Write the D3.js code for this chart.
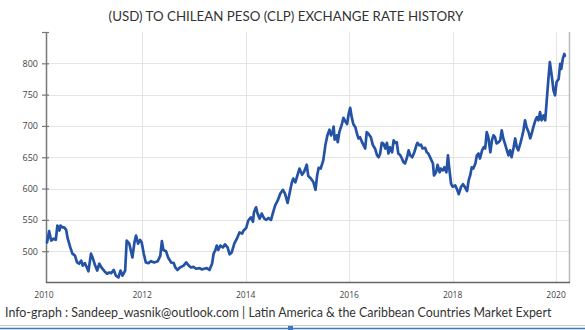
<!DOCTYPE html>
<html>
<head>
<meta charset="utf-8">
<script src="https://cdn.jsdelivr.net/npm/d3@7"></script>
<style>
  html, body { margin: 0; padding: 0; background: #fff; }
  svg { display: block; }
</style>
</head>
<body>
<svg id="chart" width="585" height="330"></svg>
<script>
// USD/CLP exchange rate, sampled as fractional years
const years = [
  2010.16, 2010.20, 2010.24, 2010.29, 2010.33, 2010.36, 2010.40, 2010.42, 2010.46, 2010.49,
  2010.53, 2010.56, 2010.61, 2010.65, 2010.70, 2010.74, 2010.78, 2010.82, 2010.85, 2010.89,
  2010.93, 2010.96, 2011.01, 2011.04, 2011.09, 2011.13, 2011.17, 2011.21, 2011.27, 2011.32,
  2011.36, 2011.40, 2011.45, 2011.49, 2011.54, 2011.58, 2011.62, 2011.67, 2011.70, 2011.75,
  2011.78, 2011.81, 2011.85, 2011.88, 2011.92, 2011.96, 2011.99, 2012.03, 2012.07, 2012.12,
  2012.17, 2012.23, 2012.30, 2012.35, 2012.38, 2012.41, 2012.46, 2012.50, 2012.56, 2012.61,
  2012.64, 2012.68, 2012.73, 2012.80, 2012.85, 2012.90, 2012.94, 2012.99, 2013.04, 2013.11,
  2013.15, 2013.20, 2013.25, 2013.30, 2013.35, 2013.38, 2013.41, 2013.44, 2013.47, 2013.51,
  2013.56, 2013.60, 2013.65, 2013.69, 2013.73, 2013.78, 2013.83, 2013.88, 2013.93, 2013.96,
  2014.01, 2014.05, 2014.10, 2014.14, 2014.16, 2014.20, 2014.23, 2014.27, 2014.31, 2014.36,
  2014.40, 2014.44, 2014.49, 2014.53, 2014.57, 2014.62, 2014.67, 2014.72, 2014.76, 2014.81,
  2014.85, 2014.89, 2014.92, 2014.96, 2015.00, 2015.04, 2015.09, 2015.13, 2015.18, 2015.21,
  2015.26, 2015.31, 2015.35, 2015.38, 2015.41, 2015.45, 2015.50, 2015.54, 2015.58, 2015.62,
  2015.65, 2015.68, 2015.70, 2015.72, 2015.76, 2015.78, 2015.81, 2015.86, 2015.89, 2015.92,
  2015.96, 2015.99, 2016.02, 2016.05, 2016.08, 2016.12, 2016.15, 2016.18, 2016.21, 2016.25,
  2016.28, 2016.31, 2016.34, 2016.37, 2016.42, 2016.46, 2016.50, 2016.54, 2016.57, 2016.60,
  2016.63, 2016.66, 2016.70, 2016.73, 2016.76, 2016.79, 2016.83, 2016.86, 2016.89, 2016.92,
  2016.95, 2016.99, 2017.02, 2017.05, 2017.08, 2017.12, 2017.15, 2017.18, 2017.22, 2017.26,
  2017.30, 2017.32, 2017.36, 2017.39, 2017.42, 2017.47, 2017.50, 2017.53, 2017.57, 2017.62,
  2017.64, 2017.68, 2017.71, 2017.75, 2017.77, 2017.81, 2017.84, 2017.88, 2017.91, 2017.94,
  2017.97, 2018.00, 2018.05, 2018.08, 2018.12, 2018.16, 2018.20, 2018.24, 2018.28, 2018.31,
  2018.34, 2018.37, 2018.40, 2018.44, 2018.47, 2018.50, 2018.53, 2018.57, 2018.60, 2018.63,
  2018.66, 2018.69, 2018.73, 2018.76, 2018.79, 2018.82, 2018.85, 2018.89, 2018.92, 2018.95,
  2018.98, 2019.01, 2019.05, 2019.08, 2019.11, 2019.14, 2019.18, 2019.21, 2019.24, 2019.27,
  2019.31, 2019.34, 2019.37, 2019.40, 2019.43, 2019.47, 2019.50, 2019.53, 2019.56, 2019.60,
  2019.63, 2019.66, 2019.69, 2019.72, 2019.76, 2019.79, 2019.82, 2019.85, 2019.88, 2019.92,
  2019.95, 2019.98, 2020.01, 2020.05, 2020.08, 2020.10, 2020.13, 2020.16, 2020.17
];

const rates = [
  514, 532, 517, 520, 518, 541, 533, 541, 538, 538,
  534, 520, 506, 496, 493, 482, 480, 485, 477, 481,
  474, 468, 496, 490, 477, 469, 480, 474, 468, 464,
  466, 465, 470, 461, 458, 469, 461, 469, 517, 512,
  501, 490, 514, 525, 512, 518, 514, 496, 482, 481,
  484, 482, 484, 493, 516, 502, 500, 490, 482, 481,
  474, 470, 474, 477, 482, 477, 474, 475, 472, 473,
  471, 472, 473, 470, 480, 496, 501, 509, 502, 509,
  506, 511, 506, 495, 498, 512, 520, 530, 528, 533,
  537, 549, 554, 547, 562, 570, 560, 552, 560, 552,
  550, 553, 550, 562, 573, 581, 592, 598, 592, 577,
  593, 609, 616, 610, 621, 632, 622, 627, 638, 620,
  616, 610, 598, 620, 633, 632, 645, 669, 685, 694,
  685, 690, 699, 678, 685, 674, 690, 703, 713, 708,
  703, 719, 729, 714, 703, 698, 688, 680, 682, 674,
  669, 664, 690, 688, 682, 669, 664, 653, 650, 656,
  673, 672, 664, 673, 656, 666, 658, 677, 673, 674,
  656, 653, 648, 642, 640, 650, 661, 653, 650, 658,
  669, 673, 669, 670, 664, 665, 658, 656, 649, 640,
  621, 626, 638, 626, 632, 629, 634, 626, 653, 629,
  608, 603, 605, 600, 591, 602, 607, 602, 596, 613,
  621, 634, 632, 640, 653, 656, 648, 661, 666, 664,
  690, 682, 658, 677, 685, 682, 672, 674, 677, 693,
  680, 672, 661, 653, 661, 650, 666, 680, 666, 661,
  672, 682, 693, 709, 698, 690, 680, 688, 698, 709,
  714, 709, 722, 709, 717, 709, 741, 773, 802, 778,
  757, 749, 770, 775, 799, 791, 807, 815, 812
];

const xTickYears = [2010, 2012, 2014, 2016, 2018, 2020];
const yTicks = [500, 550, 600, 650, 700, 750, 800, 850];
const yLabelTicks = [500, 550, 600, 650, 700, 750, 800];

const titleText = "(USD) TO CHILEAN PESO (CLP) EXCHANGE RATE HISTORY";
const footerText = "Info-graph : Sandeep_wasnik@outlook.com | Latin America & the Caribbean Countries Market Expert";

const W = 585, H = 330;
const plot = { left: 46, right: 569, top: 32, bottom: 282.5 };

const svg = d3.select("#chart");

const x = d3.scaleLinear().domain([2010.14, 2020.25]).range([plot.left, plot.right]);
const y = d3.scaleLinear().domain([450, 850]).range([plot.bottom, plot.top]);

const data = years.map((t, i) => ({ t, v: rates[i] }));

// Title
svg.append("text")
  .attr("x", 286).attr("y", 21)
  .attr("text-anchor", "middle")
  .attr("font-family", "Lato, 'Open Sans', sans-serif")
  .attr("font-size", 13.3)
  .attr("fill", "#333")
  .text(titleText);

// Gridlines
const grid = svg.append("g").attr("stroke", "#e4e4e4").attr("stroke-width", 1);
grid.selectAll("line.h").data(yTicks.filter(v => v < 850)).join("line")
  .attr("class", "h")
  .attr("x1", plot.left).attr("x2", plot.right)
  .attr("y1", d => Math.round(y(d)) + 0.5).attr("y2", d => Math.round(y(d)) + 0.5);
grid.selectAll("line.v").data(xTickYears.filter(d => x(d) > plot.left)).join("line")
  .attr("class", "v")
  .attr("y1", plot.top).attr("y2", plot.bottom)
  .attr("x1", d => Math.round(x(d)) + 0.5).attr("x2", d => Math.round(x(d)) + 0.5);

// Right frame
svg.append("line")
  .attr("x1", plot.right + 0.5).attr("x2", plot.right + 0.5)
  .attr("y1", plot.top).attr("y2", plot.bottom)
  .attr("stroke", "#b8b8b8").attr("stroke-width", 1.5);

// Y axis
const yAxis = svg.append("g")
  .attr("transform", `translate(${plot.left},0)`)
  .call(d3.axisLeft(y).tickValues(yTicks).tickSize(0).tickFormat(d => yLabelTicks.includes(d) ? d : ""));
yAxis.select(".domain").attr("stroke", "#777").attr("stroke-width", 1.5);
yAxis.selectAll(".tick line").remove();
yAxis.selectAll(".tick").append("line")
  .attr("x1", -4).attr("x2", 3)
  .attr("stroke", "#777").attr("stroke-width", 1.2);
yAxis.selectAll(".tick text")
  .attr("x", -8)
  .attr("font-family", "'Open Sans', sans-serif")
  .attr("font-size", 9)
  .attr("fill", "#444");

// X axis line
svg.append("line")
  .attr("x1", plot.left).attr("x2", plot.right + 1)
  .attr("y1", plot.bottom).attr("y2", plot.bottom)
  .attr("stroke", "#666").attr("stroke-width", 1.5);

// X labels
svg.append("g").selectAll("text").data(xTickYears).join("text")
  .attr("x", d => Math.max(x(d), plot.left - 2))
  .attr("y", 298)
  .attr("text-anchor", "middle")
  .attr("font-family", "'Open Sans', sans-serif")
  .attr("font-size", 8.5)
  .attr("fill", "#444")
  .text(d => d);

// Rate line
const line = d3.line().x(d => x(d.t)).y(d => y(d.v)).curve(d3.curveLinear);
svg.append("path")
  .datum(data)
  .attr("d", line)
  .attr("fill", "none")
  .attr("stroke", "#2453a6")
  .attr("stroke-width", 2.7)
  .attr("stroke-linejoin", "round")
  .attr("stroke-linecap", "round");

// Footer
svg.append("text")
  .attr("x", 5).attr("y", 317)
  .attr("font-family", "Lato, 'Open Sans', sans-serif")
  .attr("font-size", 12.4)
  .attr("fill", "#333")
  .text(footerText);

// Bottom frame rules
svg.append("line")
  .attr("x1", 0).attr("x2", W).attr("y1", 325.5).attr("y2", 325.5)
  .attr("stroke", "#c8c8c8").attr("stroke-width", 1);
svg.append("line")
  .attr("x1", 0).attr("x2", W).attr("y1", 328.5).attr("y2", 328.5)
  .attr("stroke", "#3b78c8").attr("stroke-width", 1.5);
svg.append("rect")
  .attr("x", 288).attr("y", 326).attr("width", 5).attr("height", 5)
  .attr("fill", "#3b78c8");
</script>
</body>
</html>
